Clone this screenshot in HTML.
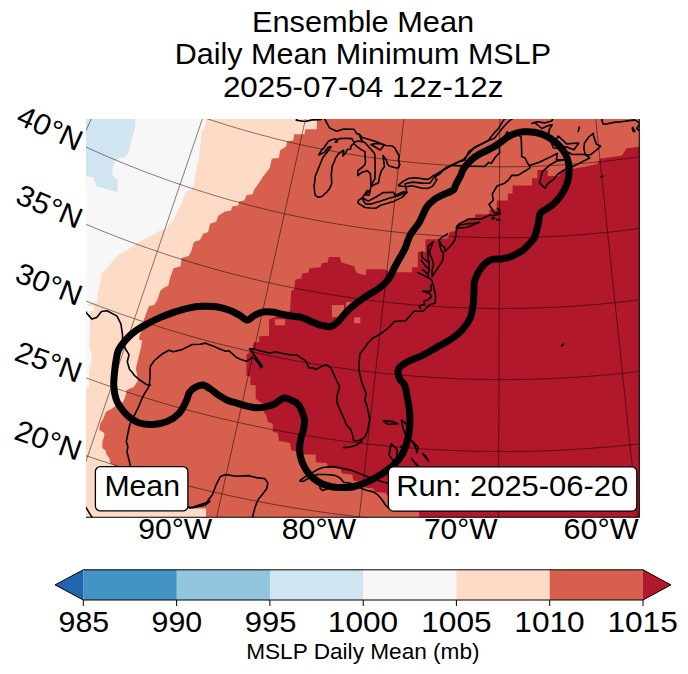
<!DOCTYPE html>
<html><head><meta charset="utf-8"><style>html,body{margin:0;padding:0;background:#fff;width:688px;height:674px;overflow:hidden}svg{display:block}</style></head>
<body><svg width="688" height="674" viewBox="0 0 688 674">
<defs><clipPath id="mc"><rect x="86" y="119" width="553.3" height="398.29999999999995"/></clipPath></defs>
<rect width="688" height="674" fill="#fff"/>
<g font-family='"Liberation Sans", sans-serif' fill="#000">
</g>
<g clip-path="url(#mc)">
<rect x="86" y="119" width="553.3" height="398.29999999999995" fill="#d6604d"/>
<polygon points="86,118 317.2,118 316.6,129.2 305.4,129.2 304.4,134.3 294.2,134.3 293.2,140.4 287.1,141.4 286.1,146.5 280,150.6 278.9,157.7 271.8,158.7 269.8,167.9 262.7,177 261.6,179 254.5,189.2 252.5,194.3 246.4,195.3 244.3,200.4 239.3,201.4 238.2,205.5 232.1,206.5 231.1,210.6 225,211.6 218.3,215.7 216.2,221.8 210.1,223.8 208.1,232 203,234 200,240.1 193.9,242.1 191.3,251 188.8,256.1 181.6,258.1 180.6,266.3 173.5,268.3 170.5,276.5 168.4,285.6 164.3,287.6 160.3,290.7 157.2,299.9 154.2,304.9 149.1,306 147,311 144,319.2 142,329.4 139.9,334.5 138.9,339.5 142,340.6 140.9,347.7 137.9,359.9 135.9,368 137.9,380.2 135.8,384 133.8,387.1 126.7,390.1 125.7,395.2 123.6,401.3 116.5,405.4 110.4,409.5 106.4,411.5 105.3,413.5 103.3,418.6 100.2,423.7 99.2,429.8 104.3,432.9 104.3,435.9 102.3,442 102.3,448.1 105.3,450.2 106.4,454.2 109.4,458.3 110.4,463.4 112.5,464.4 150,490 188,508.5 206,508.5 206,518 86,518" fill="#fddbc7"/>
<polygon points="86,118 206.1,118 205,128.2 202,130.2 198.9,158.7 195.9,170.9 193.9,185.2 189.8,190.2 185.7,192.3 181.6,203.5 178.6,209.6 173.5,219.7 166.4,227.9 159.3,230.9 153.2,235 147,238.1 138.9,242.1 129.8,248.2 125.7,251 119.6,254.1 112.5,261.2 107.4,268.3 101.3,273.4 99.8,285.6 97.2,296.8 97.2,302.5 89,303.3 87.5,311 86,311" fill="#f7f7f7"/>
<polygon points="86,306 93.8,306 93.8,311 90,311 90,330 89.7,337 89,348 91.3,352 91.3,363 89,372 89,388 86,388" fill="#f7f7f7"/>
<polygon points="86,118 135,118 135,121 135.7,125.4 130.5,143.2 129,152.1 124.6,157.3 118.6,158 114.2,162.5 112.7,168.4 112,175.1 117.9,180.3 117.2,192.2 96.4,186.2 93.4,177.3 87.5,176.6 86,176.6" fill="#d1e5f0"/>
<polygon points="640,146.5 626.2,148.5 622.1,155.6 599.7,158.7 597.7,163.8 585.5,166.8 571.2,168.9 561,170.9 559,176 547.8,176 547.8,169.9 537.4,169.9 537.4,178.3 532.1,178.3 532.1,185.5 512.5,185.5 512.5,193.4 507.9,193.4 507.9,200.6 496.8,200.6 496.8,209.7 489.6,209.7 489.6,214.3 475.2,214.3 475.2,217.6 465.7,218.7 464.7,223.8 457.6,224.8 456.6,230.9 449.5,232 448.5,238.1 440,239.2 425.4,239.2 425.4,251.7 417.8,251.7 417.8,267.3 412,267.3 412,272.2 388,272.2 388,270.4 384.4,269.3 366.1,269.3 366.1,274.8 362,274.8 356.3,272.4 354.2,266.3 341,262.2 340,257.1 328.8,257.1 327.8,262.2 321.7,263.2 320.7,267.3 309.5,268.3 308.5,272.4 302.3,273.4 301.3,278.5 295.2,279.5 294.2,289.7 291.2,290.7 290.1,311 269.1,319.5 269.1,335.7 259.2,336.2 259.2,341.9 253.5,342.4 252.5,348.2 249.3,352.3 247.5,353.8 246.4,355 246.4,376 250.4,376.5 250.4,385 255.7,385.2 255.7,398.5 257.6,400.3 262.7,403.3 263.7,411.5 266.7,416.6 267.8,421.7 272.8,423.7 272.8,431.8 277.9,432.9 278.9,441 285.1,442 290.1,443 291.2,450.2 295.2,451.2 304.4,454.4 315.7,454.4 315.7,462.3 327,463.1 327.9,467.5 340.1,467.5 341.9,473.6 352.3,474.5 353.2,480.6 362.8,482.3 364.5,487.6 373.3,488.4 375,491.9 385.5,492.8 388.1,496.3 419,508 419,518 640,518" fill="#b2182b"/>
<polygon points="331.9,305 344,305 344,317 331.9,317" fill="#d6604d"/>
<polygon points="274.9,319.2 285.1,319.2 285.1,325.3 274.9,325.3" fill="#d6604d"/>
<polygon points="354.2,317.2 360.3,317.2 360.3,323.3 354.2,323.3" fill="#d6604d"/>
<polygon points="346,302 354,302 354,307 346,307" fill="#d6604d"/>
<g fill="none" stroke="#000" stroke-opacity="0.55" stroke-width="0.9"><polyline points="-265.6,363.3 -259.5,367.5 -253.4,371.6 -247.2,375.6 -241,379.7 -234.8,383.7 -228.6,387.6 -222.4,391.6 -216.1,395.5 -209.8,399.4 -203.5,403.2 -197.2,407 -190.9,410.8 -184.5,414.5 -178.1,418.2 -171.7,421.8 -165.3,425.5 -158.8,429.1 -152.4,432.6 -145.9,436.1 -139.4,439.6 -132.9,443.1 -126.3,446.5 -119.8,449.9 -113.2,453.2 -106.6,456.5 -100,459.8 -93.4,463.1 -86.7,466.3 -80,469.4 -73.4,472.6 -66.7,475.7 -60,478.7 -53.2,481.7 -46.5,484.7 -39.7,487.7 -32.9,490.6 -26.1,493.5 -19.3,496.3 -12.5,499.1 -5.7,501.9 1.2,504.6 8.1,507.3 14.9,510 21.8,512.6 28.7,515.2 35.7,517.7 42.6,520.2 49.6,522.7 56.5,525.1 63.5,527.5 70.5,529.9 77.5,532.2 84.5,534.5 91.5,536.7 98.6,538.9 105.6,541.1 112.7,543.2 119.8,545.3 126.9,547.3 134,549.3 141.1,551.3 148.2,553.2 155.3,555.1 162.5,557 169.6,558.8 176.8,560.6 183.9,562.3 191.1,564.1 198.3,565.7 205.5,567.3 212.7,568.9 219.9,570.5 227.2,572 234.4,573.5 241.6,574.9 248.9,576.3 256.1,577.6 263.4,578.9 270.6,580.2 277.9,581.5 285.2,582.6 292.5,583.8 299.8,584.9 307.1,586 314.4,587 321.7,588 329,589 336.3,589.9 343.7,590.8 351,591.6 358.3,592.4 365.7,593.2 373,593.9 380.3,594.6 387.7,595.2 395.1,595.8 402.4,596.4 409.8,596.9 417.1,597.4 424.5,597.8 431.9,598.2 439.2,598.6 446.6,598.9 454,599.2 461.3,599.5 468.7,599.7 476.1,599.8 483.5,600 490.9,600 498.2,600.1 505.6,600.1 513,600 520.4,600 527.7,599.9 535.1,599.7 542.5,599.5 549.9,599.3 557.2,599 564.6,598.7 572,598.3 579.3,597.9 586.7,597.5 594.1,597 601.4,596.5 608.8,596 616.1,595.4 623.5,594.7 630.8,594.1 638.2,593.3 645.5,592.6 652.9,591.8 660.2,591 667.5,590.1 674.8,589.2 682.2,588.2 689.5,587.2 696.8,586.2 704.1,585.2 711.4,584 718.7,582.9 725.9,581.7 733.2,580.5 740.5,579.2 747.7,577.9 755,576.6 762.2,575.2 769.5,573.8 776.7,572.3 783.9,570.8 791.2,569.3 798.4,567.7 805.6,566.1 812.8,564.4 819.9,562.7 827.1,561 834.3,559.2 841.4,557.4 848.6,555.5 855.7,553.7 862.8,551.7 869.9,549.8 877,547.8 884.1,545.7 891.2,543.6 898.3,541.5 905.3,539.4 912.4,537.2 919.4,534.9 926.4,532.7 933.4,530.3 940.4,528 947.4,525.6 954.4,523.2 961.3,520.7 968.3,518.2 975.2,515.7 982.1,513.1 989,510.5 995.9,507.9 1002.8,505.2"/><polyline points="-223.2,301.1 -217.5,305.1 -211.7,308.9 -205.9,312.8 -200,316.6 -194.2,320.4 -188.3,324.1 -182.4,327.8 -176.5,331.5 -170.5,335.2 -164.6,338.8 -158.6,342.4 -152.6,346 -146.6,349.5 -140.6,353 -134.5,356.4 -128.5,359.9 -122.4,363.3 -116.3,366.6 -110.1,369.9 -104,373.2 -97.8,376.5 -91.7,379.7 -85.5,382.9 -79.2,386.1 -73,389.2 -66.8,392.3 -60.5,395.4 -54.2,398.4 -47.9,401.4 -41.6,404.4 -35.3,407.3 -28.9,410.2 -22.6,413 -16.2,415.9 -9.8,418.6 -3.4,421.4 3,424.1 9.4,426.8 15.9,429.4 22.3,432.1 28.8,434.6 35.3,437.2 41.8,439.7 48.3,442.2 54.9,444.6 61.4,447 68,449.4 74.5,451.7 81.1,454 87.7,456.3 94.3,458.5 100.9,460.7 107.6,462.8 114.2,465 120.9,467 127.5,469.1 134.2,471.1 140.9,473.1 147.6,475 154.3,476.9 161,478.8 167.7,480.6 174.5,482.4 181.2,484.1 188,485.9 194.7,487.5 201.5,489.2 208.3,490.8 215.1,492.4 221.9,493.9 228.7,495.4 235.5,496.9 242.3,498.3 249.2,499.7 256,501 262.9,502.4 269.7,503.6 276.6,504.9 283.4,506.1 290.3,507.2 297.2,508.4 304.1,509.5 311,510.5 317.9,511.5 324.8,512.5 331.7,513.5 338.6,514.4 345.5,515.2 352.4,516.1 359.3,516.9 366.3,517.6 373.2,518.3 380.2,519 387.1,519.7 394,520.3 401,520.8 407.9,521.4 414.9,521.9 421.8,522.3 428.8,522.7 435.8,523.1 442.7,523.5 449.7,523.8 456.7,524 463.6,524.3 470.6,524.5 477.6,524.6 484.5,524.7 491.5,524.8 498.5,524.8 505.4,524.8 512.4,524.8 519.4,524.7 526.4,524.6 533.3,524.5 540.3,524.3 547.3,524.1 554.2,523.8 561.2,523.5 568.2,523.2 575.1,522.8 582.1,522.4 589,522 596,521.5 602.9,520.9 609.9,520.4 616.8,519.8 623.8,519.2 630.7,518.5 637.7,517.8 644.6,517 651.5,516.2 658.4,515.4 665.4,514.6 672.3,513.7 679.2,512.7 686.1,511.7 693,510.7 699.9,509.7 706.8,508.6 713.6,507.5 720.5,506.3 727.4,505.1 734.2,503.9 741.1,502.6 747.9,501.3 754.8,500 761.6,498.6 768.4,497.2 775.3,495.7 782.1,494.2 788.9,492.7 795.7,491.1 802.4,489.5 809.2,487.9 816,486.2 822.7,484.5 829.5,482.8 836.2,481 843,479.2 849.7,477.3 856.4,475.4 863.1,473.5 869.8,471.5 876.5,469.5 883.1,467.5 889.8,465.4 896.4,463.3 903.1,461.1 909.7,459 916.3,456.7 922.9,454.5 929.5,452.2 936,449.9 942.6,447.5 949.1,445.1 955.7,442.7 962.2,440.2 968.7,437.7 975.2,435.2"/><polyline points="-182,240.5 -176.5,244.2 -171.1,247.9 -165.6,251.5 -160.1,255.1 -154.6,258.7 -149,262.2 -143.5,265.7 -137.9,269.2 -132.3,272.6 -126.7,276.1 -121,279.4 -115.4,282.8 -109.7,286.1 -104,289.4 -98.3,292.7 -92.6,295.9 -86.8,299.1 -81.1,302.3 -75.3,305.4 -69.5,308.5 -63.7,311.6 -57.9,314.7 -52,317.7 -46.2,320.7 -40.3,323.6 -34.4,326.5 -28.5,329.4 -22.6,332.3 -16.6,335.1 -10.7,337.9 -4.7,340.6 1.3,343.4 7.3,346.1 13.3,348.7 19.3,351.4 25.4,354 31.4,356.5 37.5,359 43.6,361.5 49.7,364 55.8,366.4 61.9,368.8 68,371.2 74.2,373.5 80.3,375.8 86.5,378.1 92.7,380.3 98.9,382.5 105.1,384.7 111.3,386.8 117.5,388.9 123.8,391 130,393 136.3,395 142.6,397 148.9,398.9 155.2,400.8 161.5,402.7 167.8,404.5 174.1,406.3 180.4,408.1 186.8,409.8 193.1,411.5 199.5,413.1 205.9,414.8 212.3,416.3 218.6,417.9 225,419.4 231.4,420.9 237.9,422.3 244.3,423.8 250.7,425.1 257.1,426.5 263.6,427.8 270,429.1 276.5,430.3 283,431.5 289.4,432.7 295.9,433.8 302.4,434.9 308.9,436 315.4,437 321.9,438 328.4,439 334.9,439.9 341.4,440.8 347.9,441.6 354.4,442.5 361,443.2 367.5,444 374,444.7 380.6,445.4 387.1,446 393.7,446.6 400.2,447.2 406.8,447.7 413.3,448.2 419.9,448.7 426.4,449.1 433,449.5 439.6,449.9 446.1,450.2 452.7,450.5 459.3,450.8 465.8,451 472.4,451.2 479,451.3 485.6,451.4 492.1,451.5 498.7,451.5 505.3,451.5 511.9,451.5 518.4,451.4 525,451.3 531.6,451.2 538.2,451 544.7,450.8 551.3,450.6 557.9,450.3 564.4,450 571,449.6 577.6,449.2 584.1,448.8 590.7,448.3 597.2,447.8 603.8,447.3 610.4,446.8 616.9,446.2 623.4,445.5 630,444.9 636.5,444.1 643.1,443.4 649.6,442.6 656.1,441.8 662.6,441 669.1,440.1 675.7,439.2 682.2,438.2 688.7,437.2 695.2,436.2 701.6,435.2 708.1,434.1 714.6,432.9 721.1,431.8 727.5,430.6 734,429.3 740.5,428.1 746.9,426.8 753.3,425.4 759.8,424.1 766.2,422.6 772.6,421.2 779,419.7 785.4,418.2 791.8,416.7 798.2,415.1 804.6,413.5 810.9,411.8 817.3,410.1 823.6,408.4 830,406.7 836.3,404.9 842.6,403.1 848.9,401.2 855.2,399.3 861.5,397.4 867.8,395.5 874,393.5 880.3,391.4 886.5,389.4 892.8,387.3 899,385.2 905.2,383 911.4,380.8 917.6,378.6 923.8,376.3 929.9,374 936.1,371.7 942.2,369.3 948.3,367"/><polyline points="-141.5,181.1 -136.4,184.5 -131.2,188 -126.1,191.4 -120.9,194.8 -115.7,198.1 -110.5,201.5 -105.2,204.8 -100,208 -94.7,211.3 -89.4,214.5 -84.1,217.7 -78.8,220.8 -73.5,224 -68.1,227.1 -62.8,230.1 -57.4,233.2 -52,236.2 -46.5,239.2 -41.1,242.1 -35.7,245.1 -30.2,247.9 -24.7,250.8 -19.2,253.6 -13.7,256.5 -8.2,259.2 -2.6,262 2.9,264.7 8.5,267.4 14.1,270 19.7,272.7 25.3,275.3 30.9,277.8 36.6,280.4 42.2,282.9 47.9,285.3 53.6,287.8 59.3,290.2 65,292.6 70.7,294.9 76.5,297.2 82.2,299.5 88,301.8 93.7,304 99.5,306.2 105.3,308.4 111.1,310.5 116.9,312.6 122.8,314.7 128.6,316.7 134.5,318.7 140.3,320.7 146.2,322.6 152.1,324.5 158,326.4 163.9,328.3 169.8,330.1 175.7,331.9 181.6,333.6 187.6,335.3 193.5,337 199.5,338.7 205.5,340.3 211.4,341.9 217.4,343.5 223.4,345 229.4,346.5 235.4,347.9 241.5,349.4 247.5,350.8 253.5,352.1 259.6,353.5 265.6,354.8 271.7,356 277.7,357.3 283.8,358.5 289.9,359.6 296,360.8 302,361.9 308.1,362.9 314.2,364 320.3,365 326.4,365.9 332.6,366.9 338.7,367.8 344.8,368.6 350.9,369.5 357.1,370.3 363.2,371.1 369.3,371.8 375.5,372.5 381.6,373.2 387.8,373.8 394,374.4 400.1,375 406.3,375.5 412.4,376 418.6,376.5 424.8,376.9 431,377.3 437.1,377.7 443.3,378 449.5,378.3 455.7,378.6 461.8,378.9 468,379.1 474.2,379.2 480.4,379.4 486.6,379.5 492.8,379.5 499,379.6 505.1,379.6 511.3,379.6 517.5,379.5 523.7,379.4 529.9,379.3 536.1,379.1 542.2,378.9 548.4,378.7 554.6,378.4 560.8,378.1 567,377.8 573.1,377.4 579.3,377 585.5,376.6 591.7,376.1 597.8,375.6 604,375.1 610.1,374.5 616.3,373.9 622.5,373.3 628.6,372.6 634.8,371.9 640.9,371.2 647,370.4 653.2,369.6 659.3,368.8 665.4,368 671.5,367.1 677.7,366.1 683.8,365.2 689.9,364.2 696,363.1 702.1,362.1 708.2,361 714.2,359.9 720.3,358.7 726.4,357.5 732.5,356.3 738.5,355 744.6,353.7 750.6,352.4 756.6,351.1 762.7,349.7 768.7,348.2 774.7,346.8 780.7,345.3 786.7,343.8 792.7,342.2 798.7,340.7 804.6,339 810.6,337.4 816.6,335.7 822.5,334 828.4,332.2 834.4,330.5 840.3,328.7 846.2,326.8 852.1,325 858,323 863.8,321.1 869.7,319.1 875.6,317.1 881.4,315.1 887.2,313 893.1,311 898.9,308.8 904.7,306.7 910.4,304.5 916.2,302.3 922,300"/><polyline points="-101.5,122.3 -96.7,125.6 -91.8,128.8 -87,132 -82.1,135.2 -77.3,138.3 -72.4,141.4 -67.5,144.5 -62.5,147.6 -57.6,150.6 -52.7,153.7 -47.7,156.6 -42.7,159.6 -37.7,162.5 -32.7,165.5 -27.6,168.3 -22.6,171.2 -17.5,174 -12.4,176.8 -7.3,179.6 -2.2,182.3 2.9,185 8.1,187.7 13.2,190.4 18.4,193 23.6,195.6 28.8,198.2 34,200.7 39.2,203.3 44.4,205.8 49.7,208.2 55,210.7 60.2,213.1 65.5,215.4 70.8,217.8 76.2,220.1 81.5,222.4 86.8,224.7 92.2,226.9 97.6,229.1 102.9,231.3 108.3,233.4 113.7,235.5 119.1,237.6 124.6,239.7 130,241.7 135.4,243.7 140.9,245.7 146.4,247.6 151.8,249.5 157.3,251.4 162.8,253.3 168.3,255.1 173.9,256.9 179.4,258.6 184.9,260.4 190.5,262.1 196,263.8 201.6,265.4 207.2,267 212.7,268.6 218.3,270.1 223.9,271.7 229.5,273.2 235.2,274.6 240.8,276 246.4,277.4 252,278.8 257.7,280.2 263.3,281.5 269,282.7 274.7,284 280.3,285.2 286,286.4 291.7,287.6 297.4,288.7 303.1,289.8 308.8,290.8 314.5,291.9 320.2,292.9 325.9,293.8 331.7,294.8 337.4,295.7 343.1,296.6 348.9,297.4 354.6,298.2 360.4,299 366.1,299.8 371.9,300.5 377.6,301.2 383.4,301.8 389.2,302.5 394.9,303.1 400.7,303.6 406.5,304.2 412.3,304.7 418,305.2 423.8,305.6 429.6,306 435.4,306.4 441.2,306.7 447,307.1 452.8,307.3 458.6,307.6 464.4,307.8 470.2,308 476,308.2 481.8,308.3 487.6,308.4 493.4,308.5 499.2,308.5 505,308.5 510.8,308.5 516.6,308.4 522.4,308.3 528.2,308.2 534,308 539.8,307.9 545.6,307.6 551.4,307.4 557.2,307.1 563,306.8 568.8,306.5 574.6,306.1 580.3,305.7 586.1,305.2 591.9,304.8 597.7,304.3 603.5,303.8 609.2,303.2 615,302.6 620.8,302 626.6,301.3 632.3,300.6 638.1,299.9 643.8,299.2 649.6,298.4 655.3,297.6 661.1,296.8 666.8,295.9 672.5,295 678.3,294 684,293.1 689.7,292.1 695.4,291.1 701.1,290 706.8,288.9 712.5,287.8 718.2,286.6 723.9,285.5 729.5,284.3 735.2,283 740.9,281.7 746.5,280.4 752.2,279.1 757.8,277.7 763.4,276.3 769.1,274.9 774.7,273.5 780.3,272 785.9,270.5 791.5,268.9 797.1,267.3 802.6,265.7 808.2,264.1 813.8,262.4 819.3,260.7 824.8,259 830.4,257.3 835.9,255.5 841.4,253.7 846.9,251.8 852.4,249.9 857.9,248 863.3,246.1 868.8,244.1 874.3,242.1 879.7,240.1 885.1,238.1 890.5,236 895.9,233.9"/><polyline points="-61.6,63.8 -57.2,66.9 -52.7,69.9 -48.1,72.9 -43.6,75.9 -39,78.8 -34.5,81.7 -29.9,84.6 -25.3,87.5 -20.7,90.3 -16.1,93.1 -11.4,95.9 -6.7,98.7 -2.1,101.4 2.6,104.1 7.3,106.8 12,109.5 16.8,112.1 21.5,114.7 26.3,117.3 31.1,119.9 35.9,122.4 40.7,124.9 45.5,127.4 50.3,129.9 55.1,132.3 60,134.7 64.9,137.1 69.7,139.5 74.6,141.8 79.6,144.1 84.5,146.4 89.4,148.6 94.3,150.8 99.3,153 104.3,155.2 109.2,157.3 114.2,159.4 119.2,161.5 124.3,163.6 129.3,165.6 134.3,167.6 139.4,169.6 144.4,171.6 149.5,173.5 154.6,175.4 159.6,177.2 164.7,179.1 169.8,180.9 175,182.7 180.1,184.4 185.2,186.2 190.4,187.9 195.5,189.5 200.7,191.2 205.9,192.8 211,194.4 216.2,196 221.4,197.5 226.6,199 231.9,200.5 237.1,201.9 242.3,203.3 247.5,204.7 252.8,206.1 258,207.4 263.3,208.8 268.6,210 273.8,211.3 279.1,212.5 284.4,213.7 289.7,214.9 295,216 300.3,217.1 305.6,218.2 310.9,219.2 316.2,220.3 321.6,221.3 326.9,222.2 332.2,223.2 337.6,224.1 342.9,224.9 348.3,225.8 353.6,226.6 359,227.4 364.4,228.2 369.7,228.9 375.1,229.6 380.5,230.3 385.9,230.9 391.3,231.5 396.6,232.1 402,232.7 407.4,233.2 412.8,233.7 418.2,234.2 423.6,234.6 429,235 434.4,235.4 439.8,235.8 445.3,236.1 450.7,236.4 456.1,236.7 461.5,236.9 466.9,237.1 472.3,237.3 477.7,237.4 483.2,237.6 488.6,237.7 494,237.7 499.4,237.7 504.8,237.8 510.3,237.7 515.7,237.7 521.1,237.6 526.5,237.5 531.9,237.3 537.3,237.2 542.8,237 548.2,236.7 553.6,236.5 559,236.2 564.4,235.9 569.8,235.5 575.2,235.1 580.6,234.7 586,234.3 591.4,233.8 596.8,233.3 602.2,232.8 607.6,232.3 613,231.7 618.4,231.1 623.8,230.4 629.1,229.7 634.5,229.1 639.9,228.3 645.3,227.6 650.6,226.8 656,226 661.3,225.1 666.7,224.3 672,223.4 677.4,222.4 682.7,221.5 688,220.5 693.4,219.5 698.7,218.4 704,217.3 709.3,216.2 714.6,215.1 719.9,214 725.2,212.8 730.4,211.5 735.7,210.3 741,209 746.3,207.7 751.5,206.4 756.8,205 762,203.6 767.2,202.2 772.4,200.8 777.7,199.3 782.9,197.8 788.1,196.3 793.3,194.7 798.4,193.1 803.6,191.5 808.8,189.9 813.9,188.2 819.1,186.5 824.2,184.8 829.4,183.1 834.5,181.3 839.6,179.5 844.7,177.6 849.8,175.8 854.8,173.9 859.9,172 865,170 870,168"/><polyline points="-21.7,5.2 -17.6,8 -13.4,10.8 -9.2,13.6 -4.9,16.4 -0.7,19.1 3.5,21.8 7.8,24.5 12.1,27.2 16.3,29.8 20.7,32.4 25,35 29.3,37.6 33.6,40.1 38,42.7 42.4,45.2 46.8,47.6 51.2,50.1 55.6,52.5 60,54.9 64.4,57.3 68.9,59.7 73.3,62 77.8,64.3 82.3,66.6 86.8,68.8 91.3,71.1 95.8,73.3 100.4,75.5 104.9,77.6 109.5,79.8 114.1,81.9 118.6,84 123.2,86 127.8,88.1 132.5,90.1 137.1,92.1 141.7,94 146.4,96 151,97.9 155.7,99.8 160.4,101.7 165.1,103.5 169.8,105.3 174.5,107.1 179.2,108.8 183.9,110.6 188.7,112.3 193.4,114 198.2,115.6 202.9,117.3 207.7,118.9 212.5,120.5 217.3,122 222.1,123.5 226.9,125.1 231.7,126.5 236.5,128 241.3,129.4 246.2,130.8 251,132.2 255.9,133.5 260.7,134.8 265.6,136.1 270.5,137.4 275.3,138.7 280.2,139.9 285.1,141.1 290,142.2 294.9,143.4 299.8,144.5 304.8,145.6 309.7,146.6 314.6,147.6 319.6,148.6 324.5,149.6 329.4,150.6 334.4,151.5 339.3,152.4 344.3,153.3 349.3,154.1 354.2,154.9 359.2,155.7 364.2,156.5 369.2,157.2 374.2,157.9 379.1,158.6 384.1,159.2 389.1,159.9 394.1,160.5 399.1,161 404.1,161.6 409.2,162.1 414.2,162.6 419.2,163.1 424.2,163.5 429.2,163.9 434.2,164.3 439.3,164.7 444.3,165 449.3,165.3 454.3,165.6 459.4,165.8 464.4,166 469.4,166.2 474.5,166.4 479.5,166.5 484.5,166.6 489.6,166.7 494.6,166.8 499.6,166.8 504.7,166.8 509.7,166.8 514.8,166.7 519.8,166.7 524.8,166.6 529.9,166.4 534.9,166.3 539.9,166.1 545,165.9 550,165.6 555,165.3 560,165.1 565.1,164.7 570.1,164.4 575.1,164 580.1,163.6 585.2,163.2 590.2,162.7 595.2,162.2 600.2,161.7 605.2,161.2 610.2,160.6 615.2,160 620.2,159.4 625.2,158.7 630.2,158.1 635.2,157.4 640.2,156.6 645.1,155.9 650.1,155.1 655.1,154.3 660,153.4 665,152.6 670,151.7 674.9,150.8 679.9,149.8 684.8,148.9 689.7,147.9 694.7,146.8 699.6,145.8 704.5,144.7 709.4,143.6 714.3,142.5 719.2,141.3 724.1,140.1 729,138.9 733.9,137.7 738.8,136.4 743.6,135.1 748.5,133.8 753.4,132.5 758.2,131.1 763,129.7 767.9,128.3 772.7,126.8 777.5,125.4 782.3,123.9 787.1,122.3 791.9,120.8 796.7,119.2 801.5,117.6 806.2,116 811,114.3 815.7,112.7 820.5,110.9 825.2,109.2 829.9,107.5 834.6,105.7 839.3,103.9 844,102"/><polyline points="18.6,-54.1 22.5,-51.5 26.4,-48.9 30.2,-46.3 34.1,-43.8 38,-41.2 41.9,-38.7 45.9,-36.3 49.8,-33.8 53.8,-31.4 57.8,-28.9 61.7,-26.6 65.7,-24.2 69.7,-21.8 73.8,-19.5 77.8,-17.2 81.9,-14.9 85.9,-12.6 90,-10.4 94.1,-8.2 98.2,-6 102.3,-3.8 106.4,-1.7 110.5,0.5 114.7,2.6 118.8,4.7 123,6.7 127.2,8.8 131.3,10.8 135.5,12.8 139.8,14.8 144,16.7 148.2,18.6 152.4,20.5 156.7,22.4 161,24.3 165.2,26.1 169.5,27.9 173.8,29.7 178.1,31.5 182.4,33.2 186.7,35 191.1,36.7 195.4,38.3 199.7,40 204.1,41.6 208.5,43.2 212.8,44.8 217.2,46.3 221.6,47.9 226,49.4 230.4,50.9 234.8,52.3 239.2,53.8 243.7,55.2 248.1,56.6 252.5,57.9 257,59.3 261.4,60.6 265.9,61.9 270.4,63.1 274.9,64.4 279.4,65.6 283.8,66.8 288.3,68 292.8,69.1 297.4,70.2 301.9,71.3 306.4,72.4 310.9,73.5 315.5,74.5 320,75.5 324.5,76.5 329.1,77.4 333.7,78.3 338.2,79.2 342.8,80.1 347.3,81 351.9,81.8 356.5,82.6 361.1,83.4 365.7,84.1 370.3,84.8 374.9,85.6 379.5,86.2 384.1,86.9 388.7,87.5 393.3,88.1 397.9,88.7 402.5,89.2 407.1,89.8 411.7,90.3 416.4,90.8 421,91.2 425.6,91.6 430.2,92 434.9,92.4 439.5,92.8 444.1,93.1 448.8,93.4 453.4,93.7 458.1,93.9 462.7,94.2 467.4,94.4 472,94.6 476.6,94.7 481.3,94.8 485.9,94.9 490.6,95 495.2,95.1 499.9,95.1 504.5,95.1 509.2,95.1 513.8,95 518.5,95 523.1,94.9 527.8,94.7 532.4,94.6 537.1,94.4 541.7,94.2 546.4,94 551,93.8 555.6,93.5 560.3,93.2 564.9,92.9 569.5,92.5 574.2,92.1 578.8,91.7 583.4,91.3 588.1,90.9 592.7,90.4 597.3,89.9 601.9,89.4 606.5,88.8 611.2,88.2 615.8,87.6 620.4,87 625,86.4 629.6,85.7 634.2,85 638.8,84.3 643.4,83.5 647.9,82.8 652.5,82 657.1,81.1 661.7,80.3 666.2,79.4 670.8,78.5 675.3,77.6 679.9,76.7 684.4,75.7 689,74.7 693.5,73.7 698,72.6 702.6,71.6 707.1,70.5 711.6,69.3 716.1,68.2 720.6,67 725.1,65.9 729.6,64.6 734.1,63.4 738.5,62.1 743,60.8 747.5,59.5 751.9,58.2 756.4,56.8 760.8,55.5 765.2,54.1 769.7,52.6 774.1,51.2 778.5,49.7 782.9,48.2 787.3,46.7 791.7,45.1 796,43.5 800.4,41.9 804.7,40.3 809.1,38.7 813.4,37 817.8,35.3"/><polyline points="-285.6,538.9 -243.7,469.7 -203.5,403.2 -164.6,338.8 -126.7,276.1 -89.4,214.5 -52.7,153.7 -16.1,93.1 20.7,32.4 57.8,-28.9 95.6,-91.6 134.6,-156.1"/><polyline points="-140.3,616.3 -106.2,543 -73.4,472.6 -41.6,404.4 -10.7,337.9 19.7,272.7 49.7,208.2 79.6,144.1 109.5,79.8 139.8,14.8 170.6,-51.6 202.5,-120"/><polyline points="12.5,677.7 38.5,601.1 63.5,527.5 87.7,456.3 111.3,386.8 134.5,318.7 157.3,251.4 180.1,184.4 202.9,117.3 226,49.4 249.5,-19.9 273.8,-91.3"/><polyline points="171,722.1 188.6,643.2 205.5,567.3 221.9,493.9 237.9,422.3 253.5,352.1 269,282.7 284.4,213.7 299.8,144.5 315.5,74.5 331.4,3.1 347.8,-70.6"/><polyline points="333.4,749.2 342.3,668.9 351,591.6 359.3,516.9 367.5,444 375.5,372.5 383.4,301.8 391.3,231.5 399.1,161 407.1,89.8 415.2,17.1 423.6,-57.9"/><polyline points="497.7,758.7 498,677.8 498.2,600.1 498.5,524.8 498.7,451.5 499,379.6 499.2,308.5 499.4,237.7 499.6,166.8 499.9,95.1 500.1,21.9 500.4,-53.5"/><polyline points="662.1,750.3 653.7,669.9 645.5,592.6 637.7,517.8 630,444.9 622.5,373.3 615,302.6 607.6,232.3 600.2,161.7 592.7,90.4 585,17.6 577.1,-57.4"/><polyline points="824.7,724.3 807.6,645.2 791.2,569.3 775.3,495.7 759.8,424.1 744.6,353.7 729.5,284.3 714.6,215.1 699.6,145.8 684.4,75.7 669,4.2 653,-69.6"/><polyline points="983.5,680.8 957.9,604.1 933.4,530.3 909.7,459 886.5,389.4 863.8,321.1 841.4,253.7 819.1,186.5 796.7,119.2 774.1,51.2 751,-18.3 727.2,-89.8"/></g>
<g fill="none" stroke="#000" stroke-width="1.6" stroke-linejoin="round"><polyline points="488,140.7 494.4,138.2 501,130.1 504.1,126.2 507.8,122.2 513.9,117.4 523.2,111.5 532.9,107.1 542.2,105 551.7,106.7 555.1,111.6 555,114.9 551.6,121.1 544.6,122.9 537.2,121.8 531.8,123.5 534.6,122.5 541.8,128.5 548.4,125.6 552.3,124.7 549.1,129.9 548.5,135.7 550.7,141.3 553.5,148 561.2,148.8 572.4,154.5 580.4,154.3 585.4,154.6 589.7,158 575.2,165.4 564.6,169.8 557.6,174.2 553.8,179.2 547.8,183.5 544.9,188.4 539.4,182.6 542.6,171.4 550,164.9 556.8,161 565.7,159.7 556.4,159.6 557.3,153.4 550.1,157.1 539.2,162.3 529.3,165.4 530,167.8 525.4,170.8 517.9,175.4 511.8,175.3 508.8,179.6 504.7,183.2 497,186 492.3,194.1 493.3,200.2 489,204.4 492.7,210.1 493.9,212.7 499.5,212.5 499,210.1 497.4,208.4 499.5,209.4 500,214.1 496.5,214.7 492.9,215.8 489.6,215 486.7,216.8 484.6,217.1 483.7,218.3 479.7,218.9 477.1,218.7 468.4,219.2 465.6,220.8 458.8,224 456.5,226.8 456.4,230.3 456.2,233.6 454.8,240 451.1,245.5 444.9,251.3 444.6,247.4 441.5,245.1 439,240 439.4,242.8 440.2,247.1 441.2,250 443.4,253.3 443,259.6 439.7,265.1 432.2,276.4 432,270.7 433.5,265.1 432.7,260.8 430.8,256.4 429.4,252.8 430.1,250 432.2,244.5 433.5,241.7 428.3,245.6 428.2,249.6 427.7,253.4 428.4,259.1 429,262.8 429.1,264.8 429.3,269.1 427.9,274 428.2,277.5 431.6,279.9 433.3,285 435.5,295 435.3,303.1 429.9,304.6 423.1,311.2 414.1,311.2 405.6,320.6 394.3,321.5 389.6,326.8 381,333.7 373.3,337.8 369.9,341 367.9,342.9 363.4,349.5 359.8,354.1 359,364.8 359.3,372 361.8,382.4 366.1,393.8 364.8,400.1 367,406.1 369.8,419.5 367.1,432.7 364.2,437.8 358.6,440.8 353.4,440.4 352.7,434.9 350.8,429.6 346.2,424.6 344.3,419.3 341.8,413.8 338.8,406.9 336.9,402.3 337,397.2 337.4,394.3 339.7,386.7 336.3,380 331.1,368.1 326.6,364.8 322.1,366 321.3,366.6 315.2,369.6 313.6,367.9 308.9,367.8 305.9,361.1 297,355.1 290.1,354.7 281.4,353.3 275.6,351.8 269.8,353.3 264,351.8 258.1,350.3 253.8,348.9 249.4,348.9 250.9,350.3 255.2,356.2 258.1,360.5 262.5,366.3 261,367.8 259.6,364.9 255.2,359.1 252.3,356.9 250.1,359.1 246.5,361.3 241,359.5 236.5,357.5 232,353.3 229.1,350.8 225.6,351.3 219.8,348.9 214.3,346.4 208.7,344.5 206,343.1 200,344.3 192.2,344.5 182,349.6 173.3,351.8 168.9,350.3 163,353.5 158.7,356.9 154.4,360.5 150.5,366 150.1,370 150.1,375 149.4,384.7 147.9,388.4 144.2,394.3 141.2,400.2 138.2,407.7 135.2,413.6 132.3,419.6 130,424 128.6,430 127.1,437.4 126.3,441.8 127.8,446.3 127.1,452.2 128.6,458.2 130,464.1 130.8,468 133.9,477.2 135.8,484 139.1,491.6 148.5,497.7 155.1,505.7 167,505.1 180.8,505.6 192.7,507.7 204.9,505.3 210.2,501.2 189.8,508.2 193.9,507.1 200,505.1 206.1,503.1 212.2,494.9 216.2,484.7 220.3,476.6 226,474.6 236.2,476.2 248.4,475.6 256.6,477.6 264.7,478.6 267.8,482.7 266.7,488.8 262.7,493.9 258.6,499 256.6,503.1 254.5,509.2 252.5,517.1 251.5,522"/><polyline points="299.5,481 303.5,478 310.5,473.6 316.6,470.1 322.7,467.5 333.1,466.6 341.9,468.4 350.6,470.1 357.6,472.7 366.3,476.2 373.3,478.8 378.5,480.6 383.7,482.3 389,483.2 400,486 400,505 388.1,507.6 385.5,505 382,499.8 378.5,495.4 373.3,491.9 366.3,490.2 359.3,487.6 350.6,483.2 343.6,482.3 340.1,478 334.9,475.4 326.2,474.5 317.4,474.5 310,477.5 303,481.5 299.5,481"/><polyline points="320.5,483.6 327.4,483.8 327.3,489 322.3,490.5 319.9,487.9 320.5,483.6"/><polyline points="285.2,115.4 296.1,116.5 299.2,115.8 296.2,120.2 305,121.5 312.3,119.9 320.4,119.7 327.9,114.6 323.8,117.4 329.7,128.1 336.6,131.3 343.7,129 353.9,129.3 356.7,133.6 359.1,134"/><polyline points="314.8,192.9 314,185.9 314.6,182.7 315.2,176.2 319.1,166.7 321,162 323,157.2 327.1,152.3 331.2,146.6 328,147.4 325.1,151.9 318.8,155 321.3,150.4 323.8,148 328.1,141.6 330.8,140 335.7,138.7 337.2,141.9 335.1,142.2 339.3,138.6 345.9,138.3 351.9,138.6 354,142.3 353.8,143.6 351.2,145.7 350.6,149 347.5,149.2 345.3,153.4 342.8,155.9 343.7,151 343.6,150.2 338.6,153.7 335.9,157.5 334,162.3 332.2,166.3 331.3,174.1 331.4,176.5 331.7,183.2 329.8,188.2 326.9,192 321.8,196.5 318.4,197.3 315.5,195.6 314.8,192.9"/><polyline points="359.1,134 360.9,138.6 362.4,141.8 358,141.1 354.1,142.3"/><polyline points="353.8,143.6 356,145.8 361.9,150.1 365.1,151.6 365,155.7 365.5,161.7 364.7,164.9 362.6,167 357.9,170.6 357.7,175.6 362.4,172 364.3,171.7 367.4,170.6 370.4,173.9 371.1,186.2 371.3,186.2 378.5,182.8 379.6,176.7 381.3,170.7 384.5,166.5 382.9,155.5 386.1,159.5 387.2,163.2 388.9,165.9 396.3,167.9 398.4,167.8 399.8,164.7 398.3,159.5 399.2,156 394.6,147.6 391.9,145.8 385.9,145.5 376.4,141.7 366.8,138.8 362.1,137.4 359.1,134"/><polyline points="383.9,145.6 380.3,150.1 375.6,147.3 371,144.5 375.1,143.6 381.1,143.7 383.9,145.6"/><polyline points="357.7,202.9 365.1,207.5 370.4,208 375.7,208.3 380.6,205.2 385.9,203.8 393.6,201.4 402.1,197.4 407.2,192.2 403.5,191.8 394.8,195.6 393.6,192.2 383,192.6 375.6,197.2 368.1,201.1 364.2,198.8 362.2,197.8 358.7,200.2 357.7,202.9"/><polyline points="364.8,194.6 369,195.2 370,191.8 367,190.6 364.8,194.6"/><polyline points="398,185.7 403.3,181.1 409.1,178.3 416.1,177.8 425.9,179.4 429.1,178.9 433.6,175.4 435.1,176.8 436.2,180.1 437,179.5 432.6,186.1 427.6,188.5 421.1,188.1 412,185.7 406.1,186.7 398,185.7"/><polyline points="433.9,175.7 441.9,170.8 452,165.2 464.2,158.9 474.6,147.1 488,140.7 494.9,132.1 498.3,128.9 502.5,121.8 506.5,116.7"/><polyline points="435.4,176.5 439.7,174 444,169.3 450.3,165.6 459.6,161.5 464.6,160.3 469,151.2 477,146.5 488,140.7"/><polyline points="558.2,135.8 566.6,143.9 578.7,143 574,149.8 567.9,147.4 560.9,146.4 557.8,145.2 554.7,142.2 558.2,135.8"/><polyline points="585.4,154.6 590.4,154.8 598.8,148.2 600.5,145.9 596.4,144.2 593.5,135.8 593.3,133.3 588.7,137 584.4,143.2 583.9,149 585.4,154.6"/><polyline points="601.4,118.4 603,123.7 604.7,124.3 615.5,122.1 619.4,122 634.7,119.9 640.1,123.4 636.9,128.2 638.2,130.2 645.4,125.5 649.5,120.5"/><polyline points="631.9,127.5 633.5,131.6 634.9,131.4 632.8,127.4 631.9,127.5"/><polyline points="456.5,228.2 467.3,227.2 479.6,222.3 473.8,223.2 467.4,223.7 459.8,224.8 456.5,228.2"/><polyline points="496.3,219.3 500,220.1 497.3,220 496.3,219.3"/><polyline points="491,218.6 494.7,217.9 494.2,218.6 491,218.6"/><polyline points="362.6,440.5 356.8,444.9 349.9,447 343.1,447.6"/><polyline points="561,346 563.3,344 562.7,345.2 561,346"/><polyline points="600.3,177 603.8,176.1"/><polyline points="452,165.4 466.4,166.1 484.5,166.5 488.8,162.4 491.1,163.5 495.7,156.8 499.7,152.6 499.2,146.8 507.2,131.8 510.5,135.4 516.3,133.1 521.2,137.1 521.7,153.1 521.6,156.6 525.1,158 527.8,163.6 529.3,165.4"/><polyline points="151,385.2 146.4,384.5 138.6,379.1 134.3,375.4 132.5,372.8 129.5,369.3 127.3,361.7 129,354.7 125.5,349 122.6,341.9 122.5,334.3 120.9,323.9 117,316.1 114.8,314.9 107,310.8 101.5,311.5 96.7,317.4 92,319.1 88.2,314.9 83.7,309.3 81,305.8 79.6,299.3 78,293.3"/><polyline points="359.1,134 361,137.9 362,141 365.2,142.9 370.4,148.7 374.7,153.7 375.2,165.2 375,178.1 371.1,186.2 369.5,191.7 364.9,193.9 362.1,198.5 365.6,204 370.9,204.1 380.9,201.1 389.8,197.9 397.4,195.9 406.6,192.6 406.1,186.8 404.9,183.8 412.3,182.1 422.5,183.1 429.8,183.2 434.3,177.1 440.8,172.6 446.2,167.2 452,165.4"/><polyline points="578,132.2 579.5,126.4"/><polyline points="429.2,262.7 426.1,260.4 421.8,257.2 421.7,251.5"/><polyline points="428.8,269.1 425.6,266 422.6,262.2 420.5,259.9"/><polyline points="427.5,273.9 424.1,270.8 422,269.3"/><polyline points="428.1,277.8 424.9,275.9 421.6,274.2 417.3,272.4"/><polyline points="439,240 441.9,237.3 445.3,235.4 448.1,233.4"/><polyline points="431.1,284.1 431.3,289.1 430.6,291.2 422.6,291.3 429.3,293.2 431.4,296.9 427.7,300.2 424.2,300.7 424.5,304.2 419.1,306 421.3,309"/><polyline points="82.6,502.7 86.2,507.9 88.7,511.9 91.7,516.8 95,521"/><polyline points="383,420.9 393.3,421.6 397.7,423.7 387.9,424.3 383,420.9"/><polyline points="401.2,419.7 408.5,426.1 405.2,434.5 403.6,430.1 401.2,419.7"/><polyline points="391.3,443.5 397.3,449.9 396.6,458.6 394.3,462 388.9,455 391.3,443.5"/><polyline points="400.3,446.5 403.5,446.8 402.8,447.7 400.3,446.5"/><polyline points="411.3,440.1 418,447.1 417,452.9 415.9,448.4 411.3,440.1"/><polyline points="411.3,458.3 418.6,467.6 421.2,469.2 413.7,461.4 411.3,458.3"/><polyline points="422.2,453.2 428.4,460.9 426,456.4 422.2,453.2"/><polyline points="427.8,469.6 433.4,478.7 431.5,475.7 427.8,469.6"/><polyline points="440.6,482 446.4,488.2 441.5,490.9 440.6,482"/><polyline points="447.6,507.4 455.9,506.2 457.2,510 447.6,507.4"/><polyline points="456.6,487.9 462,489.5 457.9,490.1 456.6,487.9"/><polyline points="464.5,496.9 475.4,496.5 475.3,499.4 467.1,498.5 464.5,496.9"/></g>
<path d="M116,361C116.7,357.2 116.7,353.7 118.5,350C120.3,346.3 123.8,342 126.7,338.8C129.6,335.6 132.5,333.2 136,330.7C139.5,328.2 143.6,325.9 147.7,323.7C151.8,321.5 156.1,319.3 160.5,317.4C164.9,315.5 169.8,313.7 174.4,312.1C179.1,310.6 183.8,309.1 188.4,308.1C193.1,307.1 197.7,306.5 202.3,306.3C207,306.1 211.7,306 216.3,306.7C221,307.4 226.2,309 230.2,310.5C234.1,312 237.2,313.9 240,315.5C242.8,317.1 245.1,320 247.3,320.1C249.6,320.2 251.2,317.3 253.5,316C255.8,314.7 258.6,313.2 260.8,312.5C263.1,311.8 264.8,311.8 267,311.8C269.2,311.8 271.9,311.9 274.3,312.3C276.7,312.7 278.9,313.6 281.5,314.2C284.1,314.8 286.6,315.3 289.8,315.8C293,316.3 296.8,316.2 300.5,317.2C304.2,318.2 308.6,320.5 312.1,321.9C315.6,323.2 318.3,324.5 321.4,325.3C324.5,326.1 328,327.1 330.7,326.5C333.4,325.9 335,324.4 337.7,321.9C340.4,319.4 343.9,314.5 347,311.4C350.1,308.3 352.8,306 356.3,303.3C359.8,300.6 364,297.6 367.9,295.1C371.8,292.6 376,290.8 379.5,288.1C383,285.4 386.3,282.3 388.8,278.8C391.3,275.3 393,270.4 394.7,267.2C396.4,264 397.6,261.8 398.9,259.5C400.2,257.2 401.4,255.4 402.5,253.3C403.6,251.2 404.7,249.1 405.6,247C406.5,244.9 407,242.9 407.8,240.8C408.6,238.7 409.3,236.7 410.5,234.6C411.7,232.5 413.4,230.4 414.9,228.3C416.4,226.2 418.2,224.1 419.4,222.1C420.6,220.1 420.9,218.9 422.1,216.4C423.4,213.9 424.9,209.7 426.9,206.9C428.9,204.1 431.4,201.8 434,199.8C436.6,197.8 439.5,196.5 442.3,195.1C445.1,193.7 448.6,192.5 450.6,191.5C452.6,190.5 453.2,190.3 454.1,189.1C455,187.9 454.9,186.6 455.9,184.4C456.9,182.2 459.1,178.7 460.3,176.2C461.5,173.7 462,171.3 463.3,169.2C464.6,167.1 466.3,165.2 467.9,163.4C469.4,161.7 470.7,160.2 472.6,158.7C474.5,157.1 477.2,155.4 479.5,154.1C481.8,152.8 484.2,151.8 486.5,150.6C488.8,149.4 491.2,148.5 493.5,147.1C495.8,145.7 498.2,144.1 500.5,142.4C502.8,140.8 505.1,138.6 507.4,137.2C509.7,135.8 511.7,134.6 514.4,133.7C517.1,132.8 520,132 523.4,131.8C526.8,131.6 530.9,131.6 534.6,132.3C538.3,133 542.4,134.3 545.7,135.8C549,137.3 552,139.4 554.6,141.4C557.2,143.4 559.4,145.9 561.3,148.1C563.1,150.3 564.5,152.3 565.7,154.7C566.9,157.1 567.8,159.7 568.4,162.5C569,165.3 569.2,168.4 569.1,171.4C569,174.4 568.8,177.3 568,180.3C567.2,183.3 566.1,186.2 564.6,189.2C563.1,192.2 561,195.5 559,198.1C557,200.7 554.6,202.9 552.4,204.8C550.2,206.7 547.8,207.8 545.7,209.3C543.7,210.8 541.3,211.5 540.1,213.7C538.9,215.9 539.1,219.7 538.5,222.6C537.9,225.5 537.2,228.4 536.5,231C535.8,233.6 535.4,235.9 534.1,238.1C532.9,240.3 530.9,242.2 529,244.2C527.1,246.2 525.1,248.6 522.9,250.3C520.7,252 518.2,253.1 515.8,254.3C513.4,255.5 511.2,256.6 508.7,257.4C506.1,258.2 503.2,258.6 500.5,258.9C497.8,259.2 494.8,258.8 492.4,259.4C490,260 488.4,260.8 486.3,262.5C484.2,264.2 481.5,267.4 479.9,269.7C478.3,271.9 477.4,273.8 476.5,276C475.6,278.2 474.6,280.5 474.2,283C473.8,285.5 474.2,287.4 474,291C473.8,294.6 473.8,299.9 473.2,304.4C472.6,308.9 472.1,313.7 470.3,317.9C468.5,322.1 465.8,325.9 462.6,329.5C459.4,333.1 455.2,336.3 451,339.2C446.8,342.1 442,344.3 437.5,346.9C433,349.5 428.5,352.4 424,354.6C419.5,356.9 414.3,358.5 410.4,360.4C406.5,362.3 402.9,364.3 400.8,366.2C398.7,368.1 398,369.8 397.9,372C397.8,374.2 399,377.5 400.2,379.7C401.4,381.9 403.6,382.2 404.8,385.4C406,388.6 406.8,394.4 407.6,398.9C408.4,403.4 409.3,407.6 409.6,412.4C409.9,417.2 410.1,422.8 409.6,427.9C409.1,433 408,438.8 406.7,443.3C405.4,447.8 404,451.4 401.9,454.9C399.8,458.4 397,461.6 394.1,464.5C391.2,467.4 387.7,469.9 384.5,472.2C381.3,474.4 378.1,476.2 374.9,478C371.7,479.8 368.8,481.4 365.2,482.8C361.6,484.2 357.5,485.9 353.6,486.7C349.8,487.5 345.8,487.6 342.1,487.6C338.4,487.6 334.9,487.3 331.5,486.7C328.1,486.1 324.9,485.2 321.8,483.8C318.7,482.4 315.7,480.2 313.1,478C310.5,475.8 308.3,473.2 306.4,470.3C304.5,467.4 302.7,463.8 301.6,460.6C300.5,457.4 299.8,454.5 299.6,451C299.4,447.5 300,442.9 300.6,439.4C301.2,435.9 302.9,433 303.5,429.8C304.1,426.6 304.8,423.3 304.5,420.1C304.2,416.9 302.7,413.2 301.6,410.5C300.5,407.8 299.8,405.7 297.7,403.8C295.6,401.9 291.6,400.2 289.1,399.3C286.7,398.4 285.4,397.5 283,398.3C280.6,399.1 277.5,402.6 274.5,404C271.5,405.4 268.2,406.3 265.1,406.9C262,407.5 258.8,408 255.6,407.8C252.4,407.6 249.3,406.7 246.2,405.9C243,405.1 239.8,404.1 236.7,403.1C233.5,402.2 230.5,401.6 227.3,400.2C224.2,398.8 220.7,396.5 217.8,394.6C215,392.7 212.7,390.5 210.2,388.9C207.7,387.3 205.2,385.3 202.7,385.1C200.2,384.9 197.2,386.3 195,387.5C192.8,388.7 191,389.9 189.5,392.3C188,394.7 187.7,398.1 186,401.6C184.3,405.1 182.2,410 179.1,413.3C176,416.6 171.7,419.5 167.4,421.4C163.1,423.2 158.2,424.1 153.5,424.4C148.8,424.7 143.7,424.3 139.5,423C135.3,421.7 131.6,419 128.5,416.5C125.4,414 123,410.8 121,408C119,405.2 117.4,403.1 116.2,399.5C115,395.9 114.1,390.6 113.8,386.2C113.5,381.8 114.1,377 114.5,372.8C114.9,368.6 115.3,364.8 116,361Z" fill="none" stroke="#000" stroke-width="7" stroke-linejoin="round"/>
</g>
<path d="M639.3,119 V517.3 H86" fill="none" stroke="#000" stroke-width="1.1"/>
<g font-family='"Liberation Sans", sans-serif'>
<rect x="95.4" y="466.6" width="92.5" height="44.3" rx="5" fill="#fff" stroke="#000" stroke-width="1.3"/>
<rect x="388.4" y="466.8" width="248.4" height="44.3" rx="5" fill="#fff" stroke="#000" stroke-width="1.3"/>
<text x="252" y="31.7" font-size="29.4" text-anchor="start" textLength="222.1" lengthAdjust="spacingAndGlyphs">Ensemble Mean</text>
<text x="174.8" y="64" font-size="29.4" text-anchor="start" textLength="376.2" lengthAdjust="spacingAndGlyphs">Daily Mean Minimum MSLP</text>
<text x="222.9" y="96.9" font-size="29.4" text-anchor="start" textLength="280.5" lengthAdjust="spacingAndGlyphs">2025-07-04 12z-12z</text>
<text x="104.4" y="496.3" font-size="29.4" text-anchor="start" textLength="75.6" lengthAdjust="spacingAndGlyphs">Mean</text>
<text x="396.2" y="496.4" font-size="29.4" text-anchor="start" textLength="231.9" lengthAdjust="spacingAndGlyphs">Run: 2025-06-20</text>
<text x="138.2" y="539.4" font-size="29.4" text-anchor="start" textLength="74" lengthAdjust="spacingAndGlyphs">90°W</text>
<text x="281.7" y="539.4" font-size="29.4" text-anchor="start" textLength="74.4" lengthAdjust="spacingAndGlyphs">80°W</text>
<text x="423.9" y="539.4" font-size="29.4" text-anchor="start" textLength="73.6" lengthAdjust="spacingAndGlyphs">70°W</text>
<text x="563.4" y="539.4" font-size="29.4" text-anchor="start" textLength="75.2" lengthAdjust="spacingAndGlyphs">60°W</text>
<text x="58.6" y="632.2" font-size="29.4" text-anchor="start" textLength="50.6" lengthAdjust="spacingAndGlyphs">985</text>
<text x="151.6" y="632.2" font-size="29.4" text-anchor="start" textLength="50.6" lengthAdjust="spacingAndGlyphs">990</text>
<text x="244.7" y="632.2" font-size="29.4" text-anchor="start" textLength="51.7" lengthAdjust="spacingAndGlyphs">995</text>
<text x="327.8" y="632.2" font-size="29.4" text-anchor="start" textLength="70.4" lengthAdjust="spacingAndGlyphs">1000</text>
<text x="421.2" y="632.2" font-size="29.4" text-anchor="start" textLength="70.4" lengthAdjust="spacingAndGlyphs">1005</text>
<text x="514.3" y="632.2" font-size="29.4" text-anchor="start" textLength="70.4" lengthAdjust="spacingAndGlyphs">1010</text>
<text x="607.4" y="632.2" font-size="29.4" text-anchor="start" textLength="70.4" lengthAdjust="spacingAndGlyphs">1015</text>
<text x="246.2" y="659.4" font-size="22.1" text-anchor="start" textLength="233.4" lengthAdjust="spacingAndGlyphs">MSLP Daily Mean (mb)</text>
<text transform="translate(77,151.5) rotate(24.55)" font-size="29.4" text-anchor="end" textLength="68.5" lengthAdjust="spacingAndGlyphs">40°N</text>
<text transform="translate(77.2,229.1) rotate(22.84)" font-size="29.4" text-anchor="end" textLength="68.5" lengthAdjust="spacingAndGlyphs">35°N</text>
<text transform="translate(77.3,306) rotate(21.35)" font-size="29.4" text-anchor="end" textLength="68.5" lengthAdjust="spacingAndGlyphs">30°N</text>
<text transform="translate(77.4,383.1) rotate(20.03)" font-size="29.4" text-anchor="end" textLength="68.5" lengthAdjust="spacingAndGlyphs">25°N</text>
<text transform="translate(77.5,461) rotate(18.85)" font-size="29.4" text-anchor="end" textLength="68.5" lengthAdjust="spacingAndGlyphs">20°N</text>
<rect x="83.3" y="569.8" width="93.6" height="30.2" fill="#4393c3"/>
<rect x="176.6" y="569.8" width="93.6" height="30.2" fill="#92c5de"/>
<rect x="269.9" y="569.8" width="93.6" height="30.2" fill="#d1e5f0"/>
<rect x="363.2" y="569.8" width="93.6" height="30.2" fill="#f7f7f7"/>
<rect x="456.4" y="569.8" width="93.6" height="30.2" fill="#fddbc7"/>
<rect x="549.7" y="569.8" width="93.6" height="30.2" fill="#d6604d"/>
<polygon points="83.3,569.8 55.1,584.9 83.3,600.0" fill="#2166ac"/>
<polygon points="643.0,569.8 670.9,584.9 643.0,600.0" fill="#b2182b"/>
<polygon points="83.3,569.8 643.0,569.8 670.9,584.9 643.0,600.0 83.3,600.0 55.1,584.9" fill="none" stroke="#000" stroke-width="1"/>
<line x1="83.3" y1="600.0" x2="83.3" y2="606" stroke="#000" stroke-width="1"/>
<line x1="176.6" y1="600.0" x2="176.6" y2="606" stroke="#000" stroke-width="1"/>
<line x1="269.9" y1="600.0" x2="269.9" y2="606" stroke="#000" stroke-width="1"/>
<line x1="363.2" y1="600.0" x2="363.2" y2="606" stroke="#000" stroke-width="1"/>
<line x1="456.4" y1="600.0" x2="456.4" y2="606" stroke="#000" stroke-width="1"/>
<line x1="549.7" y1="600.0" x2="549.7" y2="606" stroke="#000" stroke-width="1"/>
<line x1="643" y1="600.0" x2="643" y2="606" stroke="#000" stroke-width="1"/>
</g>
</svg></body></html>
